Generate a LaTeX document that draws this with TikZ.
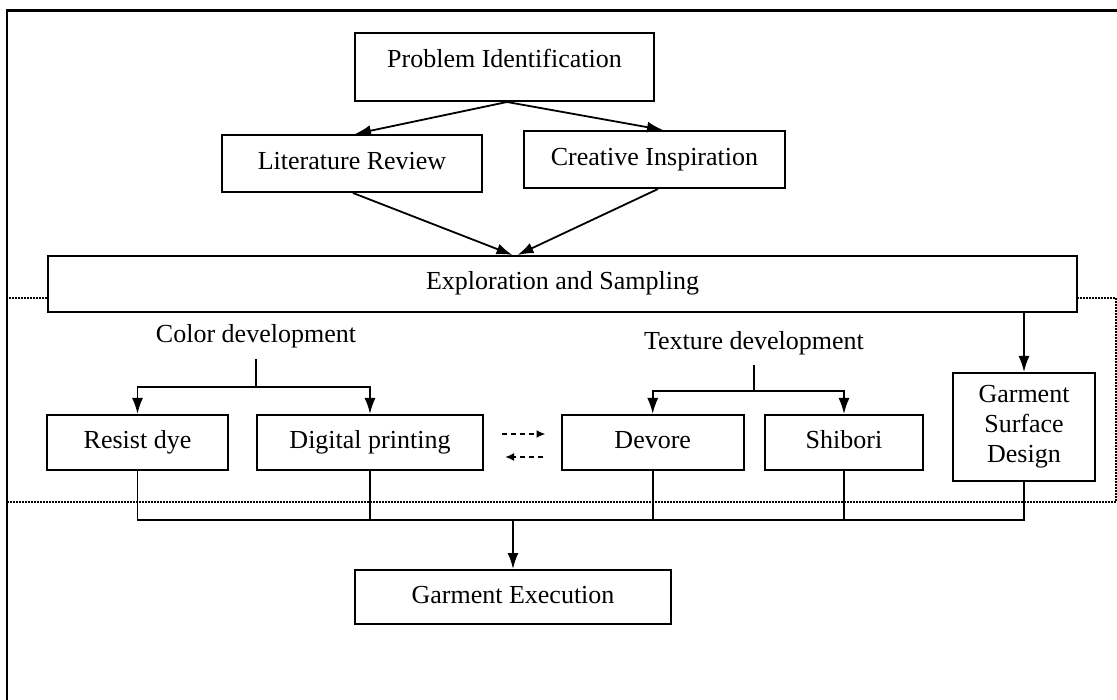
\documentclass[tikz,border=0pt]{standalone}
\usepackage{fontspec}
\setmainfont{Liberation Serif}
\usetikzlibrary{arrows.meta}
\tikzset{
  box/.style={draw, line width=2pt, fill=white, inner sep=0pt, text height=18pt, text depth=6pt},
  lbl/.style={inner sep=0pt, text height=18pt, text depth=6pt},
  conn/.style={line width=1.8pt},
  arr/.style={line width=1.8pt, -{Latex[length=16pt,width=11pt]}},
  dasharr/.style={line width=1.8pt, dash pattern=on 5pt off 4pt, -{Latex[length=9pt,width=8pt]}},
  dotbox/.style={line width=1.6pt, dash pattern=on 1.6pt off 1.4pt}
}
\begin{document}
\begin{tikzpicture}[x=1pt,y=-1pt]
\useasboundingbox (0,0) rectangle (1117,700);
\fontsize{26}{30}\selectfont
% outer frame (right and bottom lie outside the picture)
\draw[line width=2.4pt] (7,720) -- (7,10.5) -- (1130,10.5);
% dotted region
\draw[dotbox] (7,298) rectangle (1116,502);
% boxes
\node[box, minimum width=299pt, minimum height=68pt] (PI) at (504.5,67) {\raisebox{5.5pt}{Problem Identification}};
\node[box, minimum width=260pt, minimum height=57pt] (LR) at (352,163.5) {Literature Review};
\node[box, minimum width=261pt, minimum height=57pt] (CI) at (654.5,159.5) {Creative Inspiration};
\node[box, minimum width=1029pt, minimum height=56pt] (ES) at (562.5,284) {Exploration and Sampling};
\node[lbl] (CD) at (256,337) {Color development};
\node[lbl] (TD) at (754,344) {Texture development};
\node[box, minimum width=181pt, minimum height=55pt] (RD) at (137.5,442.5) {Resist dye};
\node[box, minimum width=226pt, minimum height=55pt] (DP) at (370,442.5) {Digital printing};
\node[box, minimum width=181.5pt, minimum height=55pt] (DV) at (652.75,442.5) {Devore};
\node[box, minimum width=158pt, minimum height=55pt] (SH) at (844,442.5) {Shibori};
\node[draw, line width=2pt, fill=white, inner sep=0pt, minimum width=142pt, minimum height=108pt] (GSD) at (1024,427) {\raisebox{-11.5pt}{\smash{\begin{tabular}{@{}c@{}}Garment\\ Surface\\ Design\end{tabular}}}};
\node[box, minimum width=316pt, minimum height=54pt] (GE) at (513,597) {Garment Execution};
% top arrows
\coordinate (apex) at ([xshift=2.5pt]PI.south);
\draw[arr] (apex) -- ([xshift=3pt]LR.north);
\draw[arr] (apex) -- ([xshift=8.5pt]CI.north);
\draw[arr] ([xshift=1pt]LR.south) -- ([xshift=-50pt]ES.north);
\draw[arr] ([xshift=3.5pt]CI.south) -- ([xshift=-45pt]ES.north);
\draw[arr] (GSD.north |- ES.south) -- (GSD.north);
% color development bracket
\coordinate (cdj) at (256,387);
\draw[conn] ([yshift=-10pt]CD.south) -- (cdj);
\draw[arr] (cdj) -| (RD.north);
\draw[arr] (cdj) -| (DP.north);
% texture development bracket
\coordinate (tdj) at (754,391);
\draw[conn] ([yshift=-9pt]TD.south) -- (tdj);
\draw[arr] (tdj) -| (DV.north);
\draw[arr] (tdj) -| (SH.north);
% dashed exchange arrows
\draw[dasharr, shorten <=18pt, shorten >=15.5pt] ([yshift=8.5pt]DP.east) -- ([yshift=8.5pt]DV.west);
\draw[dasharr, shorten <=18pt, shorten >=21pt] ([yshift=-14.5pt]DV.west) -- ([yshift=-14.5pt]DP.east);
% merging to garment execution
\coordinate (mj) at (513,520);
\draw[conn] (RD.south) |- (mj);
\draw[conn] (DP.south) |- (mj);
\draw[conn] (DV.south) |- (mj);
\draw[conn] (SH.south) |- (mj);
\draw[conn] (GSD.south) |- (mj);
\draw[arr] (mj) -- (GE.north);
\end{tikzpicture}
\end{document}
